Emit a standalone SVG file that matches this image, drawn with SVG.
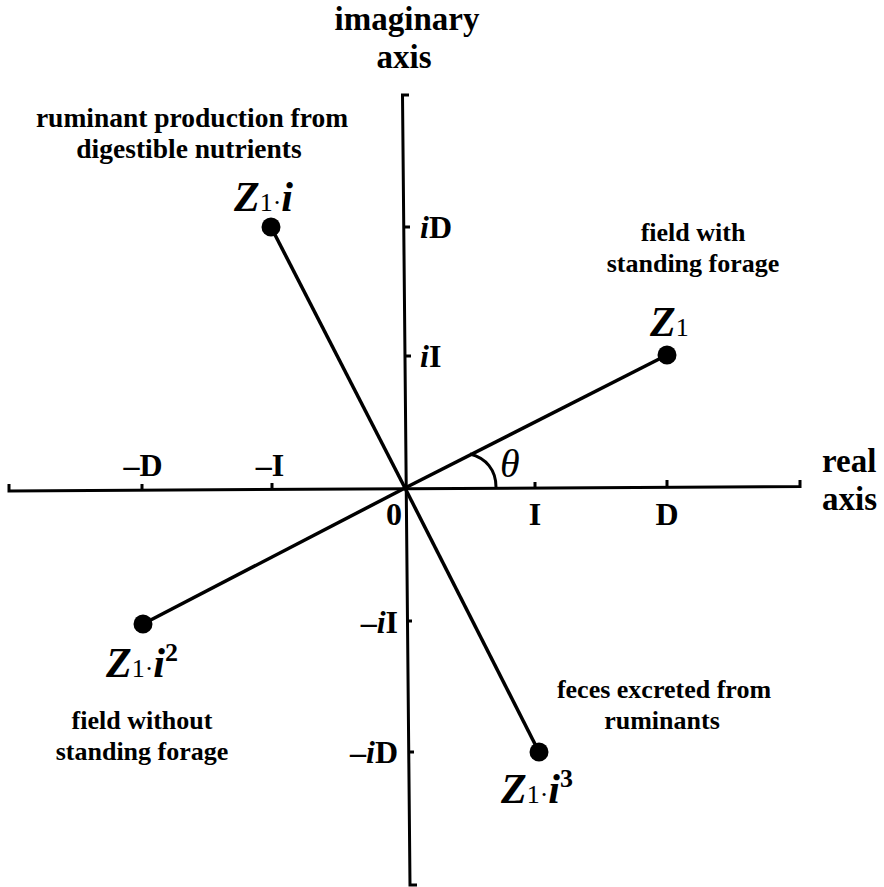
<svg xmlns="http://www.w3.org/2000/svg" width="884" height="887" viewBox="0 0 884 887">
<style>
text{font-family:"Liberation Serif","Times New Roman",serif;font-weight:bold;fill:#000}
.lab{font-size:26px;text-anchor:middle}
.ttl{font-size:33px}
.tk{font-size:32px}
.it{font-style:italic}
.z{font-size:42px}
.sub{font-size:26px;font-weight:normal;font-style:normal}
.sup{font-size:26px;font-style:normal}
.ax{stroke:#000;stroke-width:3;fill:none}
.ln{stroke:#000;stroke-width:3.5;fill:none}
.dot{fill:#000}
</style>
<rect width="884" height="887" fill="#fff"/>
<g id="axes">
<path class="ax" d="M9,484 L9,491 L800,486.5 L800,480"/>
<path class="ax" d="M409,95 L402.5,95 L410,885 L417,885"/>
<path class="ax" d="M535,482 L535,488 M667,480 L667,487 M272,483 L272,489 M142,484 L142,490"/>
<path class="ax" d="M404,227 L410,227 M405,356 L411,356 M406,621 L412,621 M408,752 L414,752"/>
</g>
<g id="connectors">
<line class="ln" x1="405" y1="488" x2="667" y2="355"/>
<line class="ln" x1="405" y1="488" x2="271" y2="227"/>
<line class="ln" x1="405" y1="488" x2="143" y2="624"/>
<line class="ln" x1="405" y1="488" x2="539" y2="752"/>
<path class="ax" d="M470,454 C486,458 496,470 496,487"/>
</g>
<g id="node-z1"><circle class="dot" cx="667" cy="355" r="9.5"/>
<text x="650" y="336"><tspan class="z it">Z</tspan><tspan class="sub">1</tspan></text></g>
<g id="node-z1i"><circle class="dot" cx="271" cy="227" r="9.5"/>
<text x="234" y="211"><tspan class="z it">Z</tspan><tspan class="sub">1·</tspan><tspan class="z it">i</tspan></text></g>
<g id="node-z1i2"><circle class="dot" cx="143" cy="624" r="9.5"/>
<text x="106" y="677"><tspan class="z it">Z</tspan><tspan class="sub">1·</tspan><tspan class="z it">i</tspan><tspan class="sup" dy="-16">2</tspan></text></g>
<g id="node-z1i3"><circle class="dot" cx="539" cy="752" r="9.5"/>
<text x="501" y="803"><tspan class="z it">Z</tspan><tspan class="sub">1·</tspan><tspan class="z it">i</tspan><tspan class="sup" dy="-16">3</tspan></text></g>
<g id="labels">
<text class="ttl" x="407" y="30" text-anchor="middle">imaginary</text>
<text class="ttl" x="404" y="68" text-anchor="middle">axis</text>
<text class="ttl" x="822" y="472">real</text>
<text class="ttl" x="822" y="510">axis</text>
<text class="lab" x="192" y="127" style="font-size:27.5px">ruminant production from</text>
<text class="lab" x="189" y="158" style="font-size:27.5px">digestible nutrients</text>
<text class="lab" x="693" y="241">field with</text>
<text class="lab" x="693" y="272">standing forage</text>
<text class="lab" x="664" y="698">feces excreted from</text>
<text class="lab" x="662" y="729">ruminants</text>
<text class="lab" x="142" y="729">field without</text>
<text class="lab" x="142" y="760">standing forage</text>
<text x="500" y="477" style="font-size:40px;font-weight:normal;font-style:italic">θ</text>
</g>
<g id="ticks">
<text class="tk" x="143" y="476" text-anchor="middle">–D</text>
<text class="tk" x="270" y="476" text-anchor="middle">–I</text>
<text class="tk" x="394" y="525" text-anchor="middle">0</text>
<text class="tk" x="535" y="525" text-anchor="middle">I</text>
<text class="tk" x="667" y="525" text-anchor="middle">D</text>
<text class="tk" x="420" y="238"><tspan class="it">i</tspan>D</text>
<text class="tk" x="420" y="367"><tspan class="it">i</tspan>I</text>
<text class="tk" x="398" y="633" text-anchor="end">–<tspan class="it">i</tspan>I</text>
<text class="tk" x="398" y="763" text-anchor="end">–<tspan class="it">i</tspan>D</text>
</g>
</svg>
